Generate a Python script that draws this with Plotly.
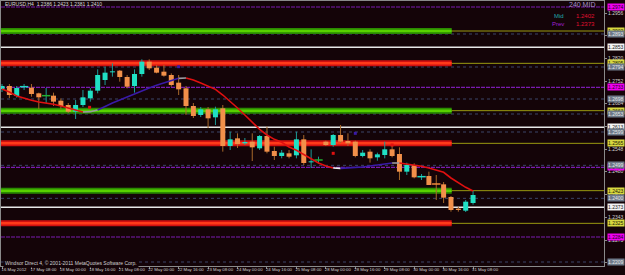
import plotly.graph_objects as go

# ---------------- data ----------------
bars = list(range(65))
opens = [1.2728, 1.2737, 1.2707, 1.2734, 1.2732, 1.2715, 1.2708, 1.2708, 1.2693, 1.2680,
         1.2660, 1.2680, 1.2700, 1.2723, 1.2755, 1.2778, 1.2783, 1.2764, 1.2737, 1.2773,
         1.2810, 1.2792, 1.2780, 1.2770, 1.2747, 1.2730, 1.2677, 1.2650, 1.2667, 1.2643,
         1.2670, 1.2557, 1.2580, 1.2565, 1.2570, 1.2550, 1.2587, 1.2542, 1.2527, 1.2535,
         1.2529, 1.2577, 1.2508, 1.2515, 1.2570, 1.2560, 1.2590, 1.2572, 1.2570, 1.2527,
         1.2540, 1.2523, 1.2530, 1.2547, 1.2533, 1.2480, 1.2500, 1.2464, 1.2467, 1.2444,
         1.2442, 1.2404, 1.2369, 1.2363, 1.2386]
highs = [1.2743, 1.2743, 1.2737, 1.2743, 1.2743, 1.2717, 1.2731, 1.2717, 1.2700, 1.2686,
         1.2695, 1.2725, 1.2731, 1.2787, 1.2795, 1.2805, 1.2785, 1.2770, 1.2787, 1.2817,
         1.2817, 1.2800, 1.2800, 1.2775, 1.2770, 1.2737, 1.2686, 1.2674, 1.2674, 1.2675,
         1.2680, 1.2600, 1.2595, 1.2581, 1.2595, 1.2590, 1.2615, 1.2555, 1.2545, 1.2545,
         1.2600, 1.2590, 1.2547, 1.2525, 1.2573, 1.2593, 1.2620, 1.2595, 1.2573, 1.2545,
         1.2547, 1.2537, 1.2570, 1.2560, 1.2553, 1.2507, 1.2505, 1.2473, 1.2480, 1.2470,
         1.2449, 1.2407, 1.2375, 1.2395, 1.2423]
lows = [1.2719, 1.2701, 1.2702, 1.2725, 1.2705, 1.2668, 1.2686, 1.2677, 1.2667, 1.2656,
        1.2638, 1.2674, 1.2690, 1.2715, 1.2740, 1.2765, 1.2750, 1.2730, 1.2717, 1.2765,
        1.2785, 1.2775, 1.2765, 1.2735, 1.2710, 1.2650, 1.2641, 1.2644, 1.2611, 1.2620,
        1.2540, 1.2545, 1.2551, 1.2560, 1.2512, 1.2545, 1.2535, 1.2515, 1.2520, 1.2520,
        1.2520, 1.2500, 1.2491, 1.2505, 1.2557, 1.2555, 1.2566, 1.2557, 1.2523, 1.2523,
        1.2507, 1.2513, 1.2520, 1.2523, 1.2455, 1.2470, 1.2460, 1.2455, 1.2440, 1.2395,
        1.2386, 1.2360, 1.2360, 1.2359, 1.2381]
closes = [1.2737, 1.2710, 1.2731, 1.2736, 1.2713, 1.2703, 1.2708, 1.2690, 1.2677, 1.2660,
          1.2680, 1.2703, 1.2723, 1.2770, 1.2777, 1.2781, 1.2764, 1.2735, 1.2773, 1.2810,
          1.2790, 1.2777, 1.2768, 1.2740, 1.2727, 1.2677, 1.2647, 1.2667, 1.2640, 1.2667,
          1.2557, 1.2577, 1.2563, 1.2569, 1.2553, 1.2587, 1.2540, 1.2527, 1.2537, 1.2525,
          1.2577, 1.2506, 1.2511, 1.2515, 1.2560, 1.2590, 1.2570, 1.2565, 1.2527, 1.2537,
          1.2520, 1.2532, 1.2547, 1.2527, 1.2480, 1.2500, 1.2463, 1.2466, 1.2440, 1.2442,
          1.2402, 1.2365, 1.2365, 1.2390, 1.2410]
ma_values = [1.2728, 1.2719, 1.2707, 1.2700, 1.2694, 1.2689, 1.2686, 1.2682, 1.2677, 1.2671,
             1.2665, 1.2659, 1.2660, 1.2665, 1.2676, 1.2686, 1.2695, 1.2704, 1.2715, 1.2724,
             1.2731, 1.2739, 1.2746, 1.2754, 1.2760, 1.2761, 1.2755, 1.2746, 1.2737, 1.2727,
             1.2710, 1.2691, 1.2671, 1.2650, 1.2629, 1.2607, 1.2590, 1.2577, 1.2568, 1.2554,
             1.2544, 1.2532, 1.2518, 1.2506, 1.2497, 1.2491, 1.2490, 1.2491, 1.2493, 1.2494,
             1.2497, 1.2500, 1.2503, 1.2506, 1.2506, 1.2503, 1.2499, 1.2496, 1.2491, 1.2484,
             1.2478, 1.2461, 1.2446, 1.2433, 1.2422]
# trend segments of the moving average: (first bar, last bar, state)
ma_segments = [(0, 11, "down"), (11, 13, "flat"), (13, 24, "up"), (24, 25, "flat"),
               (25, 45, "down"), (45, 46, "turn"), (46, 53, "up"), (53, 54, "flat"),
               (54, 64, "down")]
red_dot_bars = [11.9, 45, 53]
red_dot_prices = [1.2673, 1.2535, 1.2560]
purple_dot_bars = [24, 48]
purple_dot_prices = [1.2795, 1.2595]

green_levels = [1.2902, 1.2663, 1.2423]
red_levels = [1.2805, 1.2565, 1.2325]
white_levels = [1.2853, 1.2613, 1.2373]
purple_levels = [1.2974, 1.2733, 1.2493, 1.2284]
dotted_levels = [1.2893, 1.2794, 1.2698, 1.2653, 1.2599, 1.2499, 1.2400, 1.2209]
zone_end_bar = 61.1

time_label_bars = [0, 4, 8, 12, 16, 20, 24, 28, 32, 36, 40, 44, 48, 52, 56, 60, 64]
time_labels = ["16 May 2012", "17 May 08:00", "18 May 00:00", "18 May 16:00",
               "21 May 08:00", "22 May 00:00", "22 May 16:00", "23 May 08:00",
               "24 May 00:00", "24 May 16:00", "25 May 08:00", "28 May 00:00",
               "28 May 16:00", "29 May 08:00", "30 May 00:00", "30 May 16:00",
               "31 May 08:00"]
price_ticks = [1.2956, 1.2888, 1.2820, 1.2752, 1.2684, 1.2616, 1.2548, 1.2480,
               1.2411, 1.2343, 1.2275, 1.2207]

symbol_title = "EURUSD,H4  1.2386 1.2423 1.2381 1.2410"
mid_value = 1.2402
prev_value = 1.2373

# ---------------- styling / geometry ----------------
W, H = 625, 275
ML, MR, MT, MB = 1, 21, 1, 9
PW, PH = W - ML - MR, H - MT - MB
X_RANGE = [-0.136, 81.79]
Y_RANGE = [1.2197, 1.2992]
BG = "#140408"
FONT = "Liberation Sans"


def px(x):
    return (x - ML) / PW


def py(y):
    return 1 - (y - MT) / PH


fig = go.Figure()
xl, xr = X_RANGE


def hlines(levels, x0, x1):
    xs, ys = [], []
    for p in levels:
        xs += [x0, x1, None]
        ys += [p, p, None]
    return xs, ys


# dotted levels
xs, ys = hlines(dotted_levels, xl, xr)
fig.add_trace(go.Scatter(x=xs, y=ys, mode="lines", line=dict(color="#3a4468", width=1, dash="dot"),
                         hoverinfo="skip"))
# white levels
xs, ys = hlines(white_levels, xl, xr)
fig.add_trace(go.Scatter(x=xs, y=ys, mode="lines", line=dict(color="#e8e8e8", width=1.5),
                         hoverinfo="skip"))
# purple levels
xs, ys = hlines(purple_levels, xl, xr)
fig.add_trace(go.Scatter(x=xs, y=ys, mode="lines", line=dict(color="#7a1ab0", width=1.2, dash="4px,1px"),
                         hoverinfo="skip"))

# zones: thin olive continuation, then thick band
for levels, dark, light in [(green_levels, "#2a8a00", "#58d000"), (red_levels, "#d01010", "#ff3a1a")]:
    xs, ys = hlines(levels, zone_end_bar, xr)
    fig.add_trace(go.Scatter(x=xs, y=ys, mode="lines", line=dict(color="#9a9a10", width=1),
                             hoverinfo="skip"))
    xs, ys = hlines(levels, xl, zone_end_bar)
    fig.add_trace(go.Scatter(x=xs, y=ys, mode="lines", line=dict(color=dark, width=6),
                             hoverinfo="skip"))
    fig.add_trace(go.Scatter(x=xs, y=ys, mode="lines", line=dict(color=light, width=2.5),
                             hoverinfo="skip"))

# candle wicks
bull_w = dict(x=[], y=[])
bear_w = dict(x=[], y=[])
for k, o, h, l, c in zip(bars, opens, highs, lows, closes):
    d = bull_w if c >= o else bear_w
    d["x"] += [k, k, None]
    d["y"] += [l, h, None]
fig.add_trace(go.Scatter(x=bull_w["x"], y=bull_w["y"], mode="lines",
                         line=dict(color="#1c9a96", width=1), hoverinfo="skip"))
fig.add_trace(go.Scatter(x=bear_w["x"], y=bear_w["y"], mode="lines",
                         line=dict(color="#a8682a", width=1), hoverinfo="skip"))

# candle bodies
bull_b = dict(x=[], y=[])
bear_b = dict(x=[], y=[])
doji = dict(x=[], y=[], c=[])
for k, o, c in zip(bars, opens, closes):
    if abs(c - o) < 0.00025:
        doji["x"].append(k)
        doji["y"].append((o + c) / 2)
        doji["c"].append("#20b030" if c == o else ("#20d8c0" if c > o else "#f08a3a"))
        continue
    d = bull_b if c > o else bear_b
    d["x"] += [k, k, None]
    d["y"] += [o, c, None]
fig.add_trace(go.Scatter(x=bull_b["x"], y=bull_b["y"], mode="lines",
                         line=dict(color="#20e0c4", width=5), hoverinfo="skip"))
fig.add_trace(go.Scatter(x=bear_b["x"], y=bear_b["y"], mode="lines",
                         line=dict(color="#f2904a", width=5), hoverinfo="skip"))
fig.add_trace(go.Scatter(x=doji["x"], y=doji["y"], mode="markers",
                         marker=dict(symbol="line-ew", size=6, line=dict(color=doji["c"], width=1.5)),
                         hoverinfo="skip"))

# moving average, coloured by state
state_color = {"down": "#e01010", "up": "#3a1aa8", "flat": "#9a9aa0", "turn": "#f0f0f0"}
for a, b, s in ma_segments:
    fig.add_trace(go.Scatter(x=bars[a:b + 1], y=ma_values[a:b + 1], mode="lines",
                             line=dict(color=state_color[s], width=1.6), hoverinfo="skip"))

fig.add_trace(go.Scatter(x=red_dot_bars, y=red_dot_prices, mode="markers",
                         marker=dict(symbol="square", size=3, color="#e01010"), hoverinfo="skip"))
fig.add_trace(go.Scatter(x=purple_dot_bars, y=purple_dot_prices, mode="markers",
                         marker=dict(symbol="square", size=3, color="#3a1aa8"), hoverinfo="skip"))

annotations = []
# price boxes on the right scale
box_sets = [(purple_levels, "#f000f0", "#200020"), (green_levels, "#d8d840", "#202000"),
            (red_levels, "#d8d840", "#202000"), (white_levels, "#f4f4f4", "#202020"),
            (dotted_levels, "#6c7888", "#e8e8e8")]
for levels, bg, fg in box_sets:
    for p in levels:
        annotations.append(dict(xref="paper", yref="y", x=1.0, y=p, xanchor="left", yanchor="middle",
                                xshift=3, text=f"{p:.4f}", showarrow=False, bgcolor=bg, borderpad=0,
                                font=dict(size=5, color=fg, family=FONT)))

annotations += [
    dict(xref="paper", yref="paper", x=px(3), y=py(4.5), xanchor="left", yanchor="middle",
         text=symbol_title, showarrow=False, font=dict(size=5, color="#d8d8d8", family=FONT)),
    dict(xref="paper", yref="paper", x=px(597), y=py(5), xanchor="right", yanchor="middle",
         text="240 MID", showarrow=False, font=dict(size=7, color="#a890c8", family=FONT)),
    dict(xref="paper", yref="paper", x=px(566), y=py(16), xanchor="right", yanchor="middle",
         text="Mid", showarrow=False, font=dict(size=6, color="#20a8a8", family=FONT)),
    dict(xref="paper", yref="paper", x=px(597), y=py(16), xanchor="right", yanchor="middle",
         text=f"{mid_value:.4f}", showarrow=False, font=dict(size=6, color="#e01030", family=FONT)),
    dict(xref="paper", yref="paper", x=px(566), y=py(24), xanchor="right", yanchor="middle",
         text="Prev", showarrow=False, font=dict(size=6, color="#a020d0", family=FONT)),
    dict(xref="paper", yref="paper", x=px(597), y=py(24), xanchor="right", yanchor="middle",
         text=f"{prev_value:.4f}", showarrow=False, font=dict(size=6, color="#e01030", family=FONT)),
    dict(xref="paper", yref="paper", x=px(3), y=py(263), xanchor="left", yanchor="middle",
         text="Windsor Direct 4, © 2001-2011 MetaQuotes Software Corp.", showarrow=False,
         bgcolor=BG, font=dict(size=5, color="#d0d0d0", family=FONT)),
]

fig.update_layout(
    template="none",
    width=W, height=H,
    margin=dict(l=ML, r=MR, t=MT, b=MB, pad=0),
    paper_bgcolor=BG, plot_bgcolor=BG,
    showlegend=False,
    annotations=annotations,
    xaxis=dict(range=X_RANGE, showgrid=False, zeroline=False, showline=True, linecolor="#8a8a8a",
               linewidth=1, mirror=True, ticks="outside", ticklen=2, tickcolor="#8a8a8a",
               tickvals=time_label_bars, ticktext=time_labels, ticklabelshift=12,
               ticklabelstandoff=-3, tickangle=0,
               tickfont=dict(size=4.3, color="#d0d0d0", family=FONT), fixedrange=True),
    yaxis=dict(range=Y_RANGE, side="right", showgrid=False, zeroline=False, showline=True,
               linecolor="#8a8a8a", linewidth=1, mirror=True, ticks="outside", ticklen=2,
               tickcolor="#8a8a8a", tickvals=price_ticks, tickformat=".4f",
               tickfont=dict(size=5, color="#d0d0d0", family=FONT), fixedrange=True),
)

fig.write_html("out.html")
